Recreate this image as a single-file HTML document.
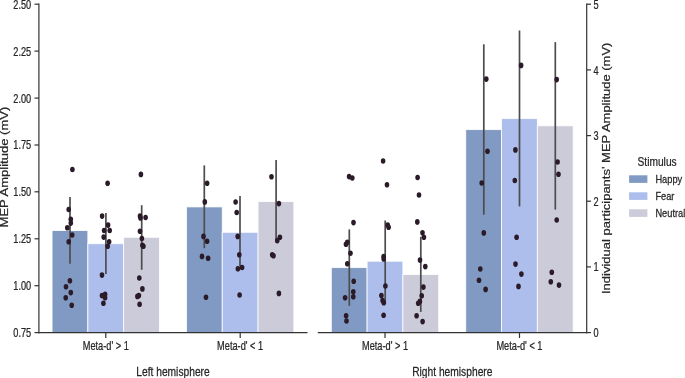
<!DOCTYPE html>
<html lang="en"><head><meta charset="utf-8"><title>MEP Amplitude by stimulus</title>
<style>html,body{margin:0;padding:0;background:#fff}svg{display:block}text{font-family:"Liberation Sans",sans-serif;fill:#262626;stroke:#262626;stroke-width:0.25px}</style></head><body>
<svg width="685" height="378" viewBox="0 0 685 378">
<rect width="685" height="378" fill="#fff"/>
<g stroke="#fff" stroke-opacity="0.9" stroke-width="0.9">
<rect x="52.05" y="230.50" width="35.80" height="102.05" fill="#819ac3"/>
<rect x="87.85" y="243.70" width="35.80" height="88.85" fill="#adbeed"/>
<rect x="123.65" y="237.30" width="35.80" height="95.25" fill="#cbcbd9"/>
<rect x="186.45" y="206.90" width="35.80" height="125.65" fill="#819ac3"/>
<rect x="222.25" y="232.30" width="35.80" height="100.25" fill="#adbeed"/>
<rect x="258.05" y="201.60" width="35.80" height="130.95" fill="#cbcbd9"/>
<rect x="331.30" y="267.60" width="35.80" height="64.95" fill="#819ac3"/>
<rect x="367.10" y="261.20" width="35.80" height="71.35" fill="#adbeed"/>
<rect x="402.90" y="274.60" width="35.80" height="57.95" fill="#cbcbd9"/>
<rect x="465.75" y="129.60" width="35.80" height="202.95" fill="#819ac3"/>
<rect x="501.55" y="118.60" width="35.80" height="213.95" fill="#adbeed"/>
<rect x="537.35" y="125.80" width="35.80" height="206.75" fill="#cbcbd9"/>
</g>
<g stroke="#4d4d4d" stroke-width="1.7">
<line x1="70.0" y1="197.0" x2="70.0" y2="263.7"/>
<line x1="105.9" y1="213.1" x2="105.9" y2="274.0"/>
<line x1="141.7" y1="205.2" x2="141.7" y2="269.8"/>
<line x1="204.3" y1="165.4" x2="204.3" y2="248.2"/>
<line x1="240.0" y1="195.9" x2="240.0" y2="266.6"/>
<line x1="276.1" y1="160.0" x2="276.1" y2="242.6"/>
<line x1="349.3" y1="229.4" x2="349.3" y2="305.8"/>
<line x1="385.2" y1="220.5" x2="385.2" y2="303.2"/>
<line x1="420.8" y1="236.8" x2="420.8" y2="311.9"/>
<line x1="483.8" y1="44.3" x2="483.8" y2="214.7"/>
<line x1="519.5" y1="30.5" x2="519.5" y2="206.4"/>
<line x1="555.3" y1="42.1" x2="555.3" y2="209.6"/>
</g>
<g fill="#2b1a28">
<ellipse cx="72.4" cy="169.5" rx="2.3" ry="2.8"/>
<ellipse cx="68.7" cy="209.5" rx="2.3" ry="2.8"/>
<ellipse cx="70.8" cy="219.3" rx="2.3" ry="2.8"/>
<ellipse cx="70.8" cy="223.1" rx="2.3" ry="2.8"/>
<ellipse cx="67.3" cy="227.7" rx="2.3" ry="2.8"/>
<ellipse cx="72.2" cy="235.0" rx="2.3" ry="2.8"/>
<ellipse cx="68.7" cy="241.7" rx="2.3" ry="2.8"/>
<ellipse cx="69.9" cy="280.7" rx="2.3" ry="2.8"/>
<ellipse cx="66.0" cy="286.8" rx="2.3" ry="2.8"/>
<ellipse cx="70.8" cy="292.6" rx="2.3" ry="2.8"/>
<ellipse cx="65.7" cy="297.8" rx="2.3" ry="2.8"/>
<ellipse cx="71.7" cy="305.2" rx="2.3" ry="2.8"/>
<ellipse cx="107.6" cy="183.3" rx="2.3" ry="2.8"/>
<ellipse cx="102.1" cy="216.1" rx="2.3" ry="2.8"/>
<ellipse cx="108.1" cy="225.1" rx="2.3" ry="2.8"/>
<ellipse cx="104.1" cy="230.5" rx="2.3" ry="2.8"/>
<ellipse cx="109.7" cy="230.5" rx="2.3" ry="2.8"/>
<ellipse cx="103.7" cy="237.1" rx="2.3" ry="2.8"/>
<ellipse cx="109.1" cy="241.7" rx="2.3" ry="2.8"/>
<ellipse cx="107.7" cy="246.3" rx="2.3" ry="2.8"/>
<ellipse cx="102.0" cy="275.1" rx="2.3" ry="2.8"/>
<ellipse cx="102.0" cy="295.6" rx="2.3" ry="2.8"/>
<ellipse cx="105.1" cy="294.3" rx="2.3" ry="2.8"/>
<ellipse cx="105.1" cy="297.7" rx="2.3" ry="2.8"/>
<ellipse cx="103.4" cy="303.3" rx="2.3" ry="2.8"/>
<ellipse cx="140.9" cy="174.4" rx="2.3" ry="2.8"/>
<ellipse cx="140.0" cy="216.1" rx="2.3" ry="2.8"/>
<ellipse cx="140.5" cy="217.9" rx="2.3" ry="2.8"/>
<ellipse cx="145.6" cy="217.5" rx="2.3" ry="2.8"/>
<ellipse cx="140.0" cy="231.2" rx="2.3" ry="2.8"/>
<ellipse cx="141.9" cy="238.5" rx="2.3" ry="2.8"/>
<ellipse cx="142.4" cy="245.2" rx="2.3" ry="2.8"/>
<ellipse cx="143.4" cy="246.2" rx="2.3" ry="2.8"/>
<ellipse cx="139.3" cy="278.0" rx="2.3" ry="2.8"/>
<ellipse cx="142.4" cy="288.9" rx="2.3" ry="2.8"/>
<ellipse cx="138.9" cy="295.6" rx="2.3" ry="2.8"/>
<ellipse cx="137.4" cy="296.4" rx="2.3" ry="2.8"/>
<ellipse cx="139.6" cy="304.3" rx="2.3" ry="2.8"/>
<ellipse cx="207.1" cy="183.3" rx="2.3" ry="2.8"/>
<ellipse cx="204.8" cy="201.9" rx="2.3" ry="2.8"/>
<ellipse cx="203.5" cy="236.4" rx="2.3" ry="2.8"/>
<ellipse cx="207.1" cy="241.2" rx="2.3" ry="2.8"/>
<ellipse cx="202.0" cy="256.4" rx="2.3" ry="2.8"/>
<ellipse cx="208.1" cy="258.2" rx="2.3" ry="2.8"/>
<ellipse cx="206.0" cy="297.3" rx="2.3" ry="2.8"/>
<ellipse cx="235.6" cy="202.0" rx="2.3" ry="2.8"/>
<ellipse cx="236.7" cy="212.5" rx="2.3" ry="2.8"/>
<ellipse cx="237.7" cy="236.4" rx="2.3" ry="2.8"/>
<ellipse cx="239.3" cy="254.7" rx="2.3" ry="2.8"/>
<ellipse cx="242.1" cy="267.5" rx="2.3" ry="2.8"/>
<ellipse cx="237.9" cy="268.7" rx="2.3" ry="2.8"/>
<ellipse cx="239.6" cy="295.0" rx="2.3" ry="2.8"/>
<ellipse cx="271.5" cy="176.8" rx="2.3" ry="2.8"/>
<ellipse cx="278.9" cy="203.6" rx="2.3" ry="2.8"/>
<ellipse cx="279.9" cy="237.3" rx="2.3" ry="2.8"/>
<ellipse cx="277.3" cy="240.6" rx="2.3" ry="2.8"/>
<ellipse cx="272.2" cy="254.8" rx="2.3" ry="2.8"/>
<ellipse cx="273.5" cy="255.7" rx="2.3" ry="2.8"/>
<ellipse cx="278.9" cy="293.4" rx="2.3" ry="2.8"/>
<ellipse cx="349.1" cy="176.6" rx="2.3" ry="2.8"/>
<ellipse cx="352.3" cy="178.0" rx="2.3" ry="2.8"/>
<ellipse cx="353.5" cy="222.6" rx="2.3" ry="2.8"/>
<ellipse cx="346.0" cy="244.3" rx="2.3" ry="2.8"/>
<ellipse cx="347.3" cy="242.3" rx="2.3" ry="2.8"/>
<ellipse cx="350.5" cy="253.3" rx="2.3" ry="2.8"/>
<ellipse cx="347.3" cy="263.8" rx="2.3" ry="2.8"/>
<ellipse cx="353.7" cy="281.3" rx="2.3" ry="2.8"/>
<ellipse cx="353.3" cy="291.8" rx="2.3" ry="2.8"/>
<ellipse cx="353.3" cy="296.7" rx="2.3" ry="2.8"/>
<ellipse cx="345.1" cy="297.7" rx="2.3" ry="2.8"/>
<ellipse cx="346.1" cy="315.8" rx="2.3" ry="2.8"/>
<ellipse cx="346.5" cy="321.0" rx="2.3" ry="2.8"/>
<ellipse cx="383.1" cy="161.0" rx="2.3" ry="2.8"/>
<ellipse cx="387.0" cy="184.7" rx="2.3" ry="2.8"/>
<ellipse cx="387.7" cy="225.0" rx="2.3" ry="2.8"/>
<ellipse cx="388.6" cy="227.2" rx="2.3" ry="2.8"/>
<ellipse cx="383.6" cy="256.5" rx="2.3" ry="2.8"/>
<ellipse cx="383.7" cy="258.9" rx="2.3" ry="2.8"/>
<ellipse cx="385.4" cy="286.0" rx="2.3" ry="2.8"/>
<ellipse cx="381.4" cy="295.6" rx="2.3" ry="2.8"/>
<ellipse cx="382.6" cy="300.6" rx="2.3" ry="2.8"/>
<ellipse cx="383.8" cy="302.7" rx="2.3" ry="2.8"/>
<ellipse cx="383.6" cy="315.3" rx="2.3" ry="2.8"/>
<ellipse cx="417.6" cy="177.5" rx="2.3" ry="2.8"/>
<ellipse cx="419.0" cy="195.0" rx="2.3" ry="2.8"/>
<ellipse cx="417.3" cy="221.9" rx="2.3" ry="2.8"/>
<ellipse cx="422.5" cy="232.8" rx="2.3" ry="2.8"/>
<ellipse cx="423.9" cy="237.3" rx="2.3" ry="2.8"/>
<ellipse cx="420.0" cy="260.1" rx="2.3" ry="2.8"/>
<ellipse cx="425.3" cy="266.6" rx="2.3" ry="2.8"/>
<ellipse cx="423.4" cy="287.1" rx="2.3" ry="2.8"/>
<ellipse cx="421.7" cy="295.8" rx="2.3" ry="2.8"/>
<ellipse cx="419.9" cy="301.4" rx="2.3" ry="2.8"/>
<ellipse cx="418.2" cy="303.2" rx="2.3" ry="2.8"/>
<ellipse cx="416.6" cy="315.7" rx="2.3" ry="2.8"/>
<ellipse cx="422.6" cy="321.6" rx="2.3" ry="2.8"/>
<ellipse cx="486.3" cy="79.1" rx="2.3" ry="2.8"/>
<ellipse cx="487.5" cy="151.2" rx="2.3" ry="2.8"/>
<ellipse cx="481.7" cy="183.0" rx="2.3" ry="2.8"/>
<ellipse cx="483.8" cy="232.9" rx="2.3" ry="2.8"/>
<ellipse cx="480.3" cy="269.0" rx="2.3" ry="2.8"/>
<ellipse cx="479.0" cy="280.2" rx="2.3" ry="2.8"/>
<ellipse cx="485.6" cy="289.4" rx="2.3" ry="2.8"/>
<ellipse cx="521.1" cy="65.4" rx="2.3" ry="2.8"/>
<ellipse cx="515.4" cy="149.9" rx="2.3" ry="2.8"/>
<ellipse cx="514.8" cy="180.5" rx="2.3" ry="2.8"/>
<ellipse cx="516.6" cy="237.2" rx="2.3" ry="2.8"/>
<ellipse cx="515.5" cy="264.1" rx="2.3" ry="2.8"/>
<ellipse cx="521.4" cy="274.1" rx="2.3" ry="2.8"/>
<ellipse cx="518.5" cy="286.4" rx="2.3" ry="2.8"/>
<ellipse cx="556.7" cy="79.6" rx="2.3" ry="2.8"/>
<ellipse cx="557.6" cy="162.0" rx="2.3" ry="2.8"/>
<ellipse cx="558.5" cy="174.3" rx="2.3" ry="2.8"/>
<ellipse cx="556.7" cy="220.0" rx="2.3" ry="2.8"/>
<ellipse cx="551.8" cy="272.2" rx="2.3" ry="2.8"/>
<ellipse cx="550.8" cy="281.8" rx="2.3" ry="2.8"/>
<ellipse cx="559.0" cy="285.1" rx="2.3" ry="2.8"/>
</g>
<g stroke="#333333" stroke-width="1.2" fill="none">
<path d="M38.9 3.6 V333.2"/>
<path d="M38.4 332.6 H307.5"/>
<path d="M317.8 332.6 H587.3"/>
<path d="M586.7 3.6 V333.2"/>
<path d="M34.5 332.6 H39"/>
<path d="M34.5 285.7 H39"/>
<path d="M34.5 238.8 H39"/>
<path d="M34.5 191.8 H39"/>
<path d="M34.5 145.0 H39"/>
<path d="M34.5 98.1 H39"/>
<path d="M34.5 51.1 H39"/>
<path d="M34.5 4.2 H39"/>
<path d="M586.7 332.6 H591"/>
<path d="M586.7 266.9 H591"/>
<path d="M586.7 201.2 H591"/>
<path d="M586.7 135.6 H591"/>
<path d="M586.7 69.9 H591"/>
<path d="M586.7 4.2 H591"/>
<path d="M105.8 332.6 V338.0"/>
<path d="M240.2 332.6 V338.0"/>
<path d="M385.0 332.6 V338.0"/>
<path d="M519.5 332.6 V338.0"/>
</g>
<text transform="translate(31.20 337.00) scale(0.765 1)" font-size="12.00" text-anchor="end">0.75</text>
<text transform="translate(31.20 290.10) scale(0.765 1)" font-size="12.00" text-anchor="end">1.00</text>
<text transform="translate(31.20 243.20) scale(0.765 1)" font-size="12.00" text-anchor="end">1.25</text>
<text transform="translate(31.20 196.30) scale(0.765 1)" font-size="12.00" text-anchor="end">1.50</text>
<text transform="translate(31.20 149.40) scale(0.765 1)" font-size="12.00" text-anchor="end">1.75</text>
<text transform="translate(31.20 102.50) scale(0.765 1)" font-size="12.00" text-anchor="end">2.00</text>
<text transform="translate(31.20 55.60) scale(0.765 1)" font-size="12.00" text-anchor="end">2.25</text>
<text transform="translate(31.20 8.70) scale(0.765 1)" font-size="12.00" text-anchor="end">2.50</text>
<text transform="translate(593.40 337.15) scale(0.765 1)" font-size="12.00" text-anchor="start">0</text>
<text transform="translate(593.40 271.49) scale(0.765 1)" font-size="12.00" text-anchor="start">1</text>
<text transform="translate(593.40 205.83) scale(0.765 1)" font-size="12.00" text-anchor="start">2</text>
<text transform="translate(593.40 140.17) scale(0.765 1)" font-size="12.00" text-anchor="start">3</text>
<text transform="translate(593.40 74.51) scale(0.765 1)" font-size="12.00" text-anchor="start">4</text>
<text transform="translate(593.40 8.85) scale(0.765 1)" font-size="12.00" text-anchor="start">5</text>
<text transform="translate(105.75 350.20) scale(0.763 1)" font-size="12.10" text-anchor="middle">Meta-d&#39; &gt; 1</text>
<text transform="translate(240.15 350.20) scale(0.763 1)" font-size="12.10" text-anchor="middle">Meta-d&#39; &lt; 1</text>
<text transform="translate(385.00 350.20) scale(0.763 1)" font-size="12.10" text-anchor="middle">Meta-d&#39; &gt; 1</text>
<text transform="translate(519.45 350.20) scale(0.763 1)" font-size="12.10" text-anchor="middle">Meta-d&#39; &lt; 1</text>
<text transform="translate(173.00 375.50) scale(0.768 1)" font-size="13.35" text-anchor="middle">Left hemisphere</text>
<text transform="translate(452.30 375.50) scale(0.768 1)" font-size="13.35" text-anchor="middle">Right hemisphere</text>
<text transform="translate(7.75 167.05) scale(0.85 1) rotate(-90)" font-size="13.05" stroke-width="0.1" text-anchor="middle">MEP Amplitude (mV)</text>
<text transform="translate(610.2 168.3) scale(0.81 1) rotate(-90)" font-size="13.02" stroke-width="0.1" text-anchor="middle">Individual participants&#39; MEP Amplitude (mV)</text>
<text transform="translate(657.10 165.75) scale(0.785 1)" font-size="13.00" text-anchor="middle">Stimulus</text>
<rect x="629.1" y="175.3" width="18.3" height="7.6" fill="#819ac3"/>
<text transform="translate(655.40 183.00) scale(0.835 1)" font-size="11.10" text-anchor="start">Happy</text>
<rect x="629.1" y="192.3" width="18.3" height="7.6" fill="#adbeed"/>
<text transform="translate(655.40 200.00) scale(0.835 1)" font-size="11.10" text-anchor="start">Fear</text>
<rect x="629.1" y="209.3" width="18.3" height="7.6" fill="#cbcbd9"/>
<text transform="translate(655.40 217.00) scale(0.835 1)" font-size="11.10" text-anchor="start">Neutral</text>
</svg></body></html>
